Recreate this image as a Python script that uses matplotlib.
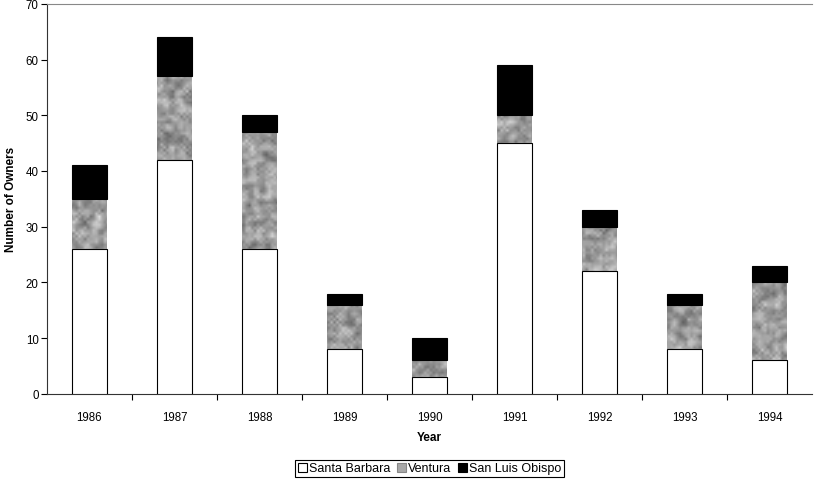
import numpy as np
import matplotlib
matplotlib.use('Agg')
import matplotlib.pyplot as plt
from matplotlib.patches import Patch

plt.rcParams['font.family'] = ['Liberation Sans', 'DejaVu Sans']

years = ['1986', '1987', '1988', '1989', '1990', '1991', '1992', '1993', '1994']
santa_barbara = [26, 42, 26, 8, 3, 45, 22, 8, 6]
ventura = [9, 15, 21, 8, 3, 5, 8, 8, 14]
san_luis_obispo = [6, 7, 3, 2, 4, 9, 3, 2, 3]

x = np.arange(len(years))
sb = np.array(santa_barbara)
ve = np.array(ventura)
slo = np.array(san_luis_obispo)
w = 0.41

fig = plt.figure(figsize=(8.14, 4.81), dpi=100)
ax = fig.add_axes([0.0577, 0.179, 0.94, 0.811])

ax.bar(x, sb, width=w, color='white', edgecolor='black', linewidth=0.8, zorder=3)
vbars = ax.bar(x, ve, bottom=sb, width=w, color='#a8a8a8', edgecolor='none', zorder=2)
ax.bar(x, slo, bottom=sb + ve, width=w, color='black', edgecolor='black', linewidth=0.8, zorder=3)

# grainy texture for the Ventura segments (style only, not data)
rng = np.random.default_rng(3)
tex = rng.random((140, 270))
tex = (tex + np.roll(tex, 1, 0) + np.roll(tex, -1, 0) + np.roll(tex, 1, 1) + np.roll(tex, -1, 1)) / 5
tex = (tex - tex.min()) / (tex.max() - tex.min())
for b in vbars:
    im = ax.imshow(tex, extent=[-0.5, 8.5, 0, 70], aspect='auto', cmap='gray',
                   vmin=-0.6, vmax=1.2, zorder=2.5, interpolation='bilinear')
    im.set_clip_path(b)

ax.set_xlim(-0.5, 8.5)
ax.set_ylim(0, 70)
ax.set_yticks(range(0, 71, 10))
ax.set_xticks(x)
ax.set_xticklabels(years)
ax.set_xticks(np.arange(0.5, 8, 1), minor=True)
ax.tick_params(axis='x', which='major', length=0, pad=12, labelsize=8.3)
ax.tick_params(axis='x', which='minor', length=4, direction='out', width=0.8)
ax.tick_params(axis='y', length=4, direction='out', width=0.8, labelsize=8.3, pad=2)

ax.spines['right'].set_visible(False)
ax.spines['top'].set_color('#888888')
ax.spines['left'].set_color('#333333')
ax.spines['bottom'].set_color('#333333')

ax.set_xlabel('Year', fontweight='bold', fontsize=8.5, labelpad=6)
ax.set_ylabel('Number of Owners', fontweight='bold', fontsize=8.5, labelpad=6)

handles = [Patch(facecolor='white', edgecolor='black', linewidth=0.8),
           Patch(facecolor='#a8a8a8', edgecolor='#888888', linewidth=0.8),
           Patch(facecolor='black', edgecolor='black', linewidth=0.8)]
leg = fig.legend(handles, ['Santa Barbara', 'Ventura', 'San Luis Obispo'],
                 loc='center', bbox_to_anchor=(0.5277, 0.024), ncol=3, fontsize=9,
                 fancybox=False, edgecolor='black', framealpha=1,
                 handlelength=0.75, handleheight=0.75, handletextpad=0.15,
                 columnspacing=0.5, borderpad=0.2, borderaxespad=0)
leg.get_frame().set_linewidth(0.8)

plt.savefig('out.png', dpi=100)
